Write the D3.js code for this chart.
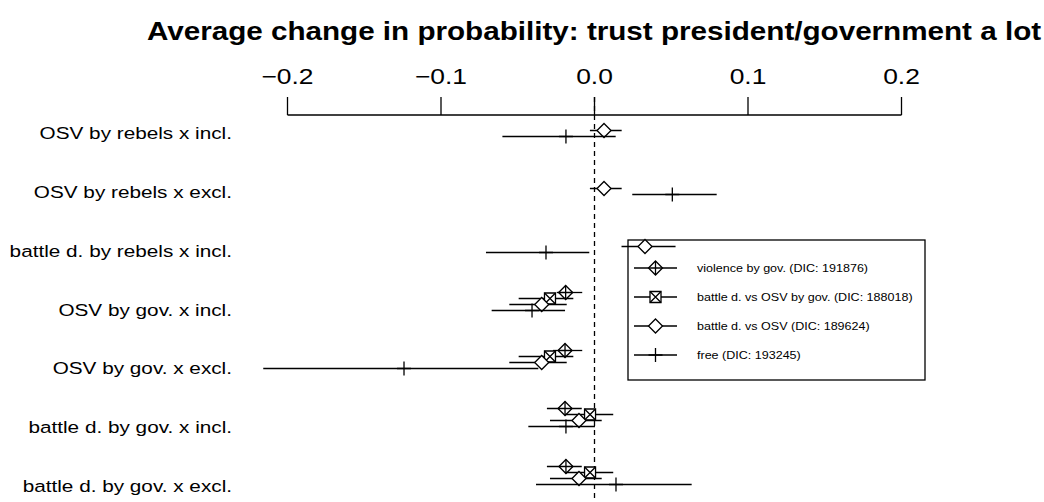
<!DOCTYPE html>
<html>
<head>
<meta charset="utf-8">
<script src="https://cdn.jsdelivr.net/npm/d3@7"></script>
<style>
  body { margin: 0; background: #fff; }
  text { font-family: "Liberation Sans", Arial, sans-serif; fill: #000; }
</style>
</head>
<body>
<div id="chart"></div>
<script>
// Row labels (top to bottom)
const categories = [
  "OSV by rebels x incl.",
  "OSV by rebels x excl.",
  "battle d. by rebels x incl.",
  "OSV by gov. x incl.",
  "OSV by gov. x excl.",
  "battle d. by gov. x incl.",
  "battle d. by gov. x excl."
];

const xTicks = [-0.2, -0.1, 0.0, 0.1, 0.2];

// violence by gov. (DIC: 191876)
const violenceEst = [null, null, null, -0.0188, -0.0192, -0.0192, -0.0186];
const violenceLo  = [null, null, null, -0.0246, -0.0270, -0.0310, -0.0310];
const violenceHi  = [null, null, null, -0.0080, -0.0080, -0.0083, -0.0083];

// battle d. vs OSV by gov. (DIC: 188018)
const boxEst = [null, null, null, -0.0290, -0.0290, -0.0029, -0.0029];
const boxLo  = [null, null, null, -0.0494, -0.0494, -0.0190, -0.0190];
const boxHi  = [null, null, null, -0.0138, -0.0138, 0.0122, 0.0122];

// battle d. vs OSV (DIC: 189624)
const diamondEst = [0.0062, 0.0062, 0.0329, -0.0344, -0.0344, -0.0101, -0.0101];
const diamondLo  = [-0.0030, -0.0030, 0.0176, -0.0555, -0.0555, -0.0290, -0.0290];
const diamondHi  = [0.0177, 0.0177, 0.0528, -0.0181, -0.0181, 0.0047, 0.0047];

// free (DIC: 193245)
const freeEst = [-0.0186, 0.0507, -0.0316, -0.0407, -0.1241, -0.0186, 0.0140];
const freeLo  = [-0.0600, 0.0246, -0.0707, -0.0670, -0.2158, -0.0431, -0.0381];
const freeHi  = [0.0138, 0.0796, -0.0034, -0.0192, -0.0366, 0.0003, 0.0633];

const W = 1044, H = 502;

const svg = d3.select("#chart").append("svg")
  .attr("width", W)
  .attr("height", H);

const x = d3.scaleLinear().domain([-0.2, 0.2]).range([287.5, 901.5]);
const y = d3.scalePoint().domain(categories).range([136.5, 484.5]);
// row labels sit on a slightly wider spread than the marks
const yLabel = d3.scalePoint().domain(categories).range([133, 486]);

// the reference text is stretched horizontally
function stretched(sel, px, py, sx) {
  return sel.attr("transform", `translate(${px},${py}) scale(${sx},1)`);
}

// marker shapes
function diamondPath(cx, cy, r) {
  return `M${cx},${cy - r}L${cx + r},${cy}L${cx},${cy + r}L${cx - r},${cy}Z`;
}
const shapes = {
  diamondPlus(g, cx, cy) {
    g.append("path").attr("d", diamondPath(cx, cy, 7)).attr("fill", "#fff");
    g.append("path").attr("d", `M${cx - 7},${cy}H${cx + 7}M${cx},${cy - 7}V${cy + 7}`);
  },
  boxX(g, cx, cy) {
    const r = 5.5;
    g.append("path").attr("d", `M${cx - r},${cy - r}h${2 * r}v${2 * r}h${-2 * r}Z`).attr("fill", "#fff");
    g.append("path").attr("d", `M${cx - r},${cy - r}L${cx + r},${cy + r}M${cx + r},${cy - r}L${cx - r},${cy + r}`);
  },
  diamond(g, cx, cy) {
    g.append("path").attr("d", diamondPath(cx, cy, 7)).attr("fill", "#fff");
  },
  plus(g, cx, cy) {
    g.append("path").attr("d", `M${cx - 7},${cy}H${cx + 7}M${cx},${cy - 7}V${cy + 7}`);
  }
};

const series = [
  { name: "violence by gov. (DIC: 191876)", est: violenceEst, lo: violenceLo, hi: violenceHi, shape: "diamondPlus", dy: -18 },
  { name: "battle d. vs OSV by gov. (DIC: 188018)", est: boxEst, lo: boxLo, hi: boxHi, shape: "boxX", dy: -12 },
  { name: "battle d. vs OSV (DIC: 189624)", est: diamondEst, lo: diamondLo, hi: diamondHi, shape: "diamond", dy: -6 },
  { name: "free (DIC: 193245)", est: freeEst, lo: freeLo, hi: freeHi, shape: "plus", dy: 0 }
];

// Title
stretched(svg.append("text"), 594, 40, 1.14)
  .attr("text-anchor", "middle")
  .style("font-size", "26px")
  .style("font-weight", "bold")
  .text("Average change in probability: trust president/government a lot");

// Top axis
const axis = svg.append("g").attr("stroke", "#000").attr("stroke-width", 1.3).attr("fill", "none");
axis.append("path").attr("d", `M${x(-0.2)},115H${x(0.2)}`);
axis.selectAll(".tick")
  .data(xTicks)
  .enter().append("path")
  .attr("d", d => `M${x(d)},115V97`);

svg.selectAll(".tick-label")
  .data(xTicks)
  .enter().append("text")
  .attr("class", "tick-label")
  .each(function(d) { stretched(d3.select(this), x(d), 84, 1.2); })
  .attr("text-anchor", "middle")
  .style("font-size", "22px")
  .text(d => d3.format(".1f")(d).replace("-", "\u2212"));

// Zero reference line
svg.append("line")
  .attr("x1", x(0)).attr("x2", x(0))
  .attr("y1", 97).attr("y2", H)
  .attr("stroke", "#000")
  .attr("stroke-width", 1.3)
  .attr("stroke-dasharray", "5,4");

// Row labels
svg.selectAll(".row-label")
  .data(categories)
  .enter().append("text")
  .attr("class", "row-label")
  .each(function(d) { stretched(d3.select(this), 232, yLabel(d) + 6, 1.22); })
  .attr("text-anchor", "end")
  .style("font-size", "17px")
  .text(d => d);

// Legend box (no fill, drawn under the marks)
const legend = svg.append("g");
legend.append("rect")
  .attr("x", 628).attr("y", 240)
  .attr("width", 297).attr("height", 140)
  .attr("fill", "none")
  .attr("stroke", "#000")
  .attr("stroke-width", 1.3);

series.forEach((s, i) => {
  const ly = 268 + i * 29;
  const g = legend.append("g").attr("stroke", "#000").attr("stroke-width", 1.3).attr("fill", "none");
  g.append("path").attr("d", `M634,${ly}H677`);
  shapes[s.shape](g, 655.5, ly);
  stretched(legend.append("text"), 697, ly + 4, 1.14)
    .style("font-size", "11px")
    .text(s.name);
});

// Estimates with intervals
series.forEach(s => {
  const g = svg.append("g").attr("stroke", "#000").attr("stroke-width", 1.3).attr("fill", "none");
  categories.forEach((c, i) => {
    if (s.est[i] == null) return;
    const cy = y(c) + s.dy;
    g.append("path").attr("d", `M${x(s.lo[i])},${cy}H${x(s.hi[i])}`);
    shapes[s.shape](g, x(s.est[i]), cy);
  });
});
</script>
</body>
</html>
